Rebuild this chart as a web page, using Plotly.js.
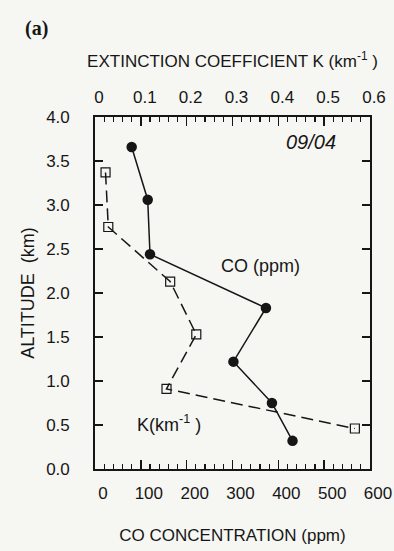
<!DOCTYPE html>
<html>
<head>
<meta charset="utf-8">
<script src="https://cdn.plot.ly/plotly-3.0.1.min.js"></script>
<style>html,body{margin:0;padding:0;background:#f6f6f3;}#chart{width:394px;height:551px;}</style>
</head>
<body>
<div id="chart"></div>
<script>
// CO concentration profile (ppm) vs altitude (km)
const coAltitude = [3.66, 3.06, 2.44, 1.83, 1.22, 0.75, 0.32];
const coValues   = [80, 115, 120, 373, 302, 386, 431];
// Extinction coefficient K (km^-1) vs altitude (km)
const kAltitude  = [3.37, 2.75, 2.13, 1.53, 0.91, 0.46];
const kValues    = [0.023, 0.029, 0.164, 0.221, 0.156, 0.567];
// Axis ranges and tick steps
const coRange = [0, 600];
const kRange  = [0, 0.6];
const altRange = [0, 4];
const coStep = 100, coMinorStep = 20;
const kStep = 0.1, kMinorStep = 0.02;
const altStep = 0.5;

const FONT = 'Liberation Sans, Arial, sans-serif';
const INK = '#161616';

const traces = [
  {
    x: coValues, y: coAltitude, xaxis: 'x', yaxis: 'y',
    mode: 'lines+markers', type: 'scatter',
    line: {color: INK, width: 1.5},
    marker: {symbol: 'circle', size: 10.5, color: INK},
    showlegend: false, hoverinfo: 'skip'
  },
  {
    x: kValues, y: kAltitude, xaxis: 'x2', yaxis: 'y',
    mode: 'lines+markers', type: 'scatter',
    line: {color: INK, width: 1.5, dash: '12px,6px'},
    marker: {symbol: 'square-open', size: 9, color: INK, line: {width: 1.2, color: INK}},
    showlegend: false, hoverinfo: 'skip'
  }
];

const layout = {
  width: 394, height: 551,
  margin: {l: 95, r: 24, t: 117, b: 82},
  paper_bgcolor: '#f6f6f3', plot_bgcolor: 'rgba(0,0,0,0)',
  font: {family: FONT, size: 17, color: INK},
  showlegend: false,
  xaxis: {
    range: coRange, dtick: coStep,
    ticks: 'inside', ticklen: 9, tickwidth: 1.4, tickcolor: INK,
    minor: {dtick: coMinorStep, ticks: 'inside', ticklen: 5, tickwidth: 1.2, tickcolor: INK},
    showline: true, linecolor: INK, linewidth: 1.8,
    showgrid: false, zeroline: false,
    tickfont: {family: FONT, size: 17, color: INK},
    ticklabelstandoff: 8, ticklabelshift: 8,
    title: {text: 'CO CONCENTRATION (ppm)', font: {family: FONT, size: 17, color: INK}, standoff: 27}
  },
  xaxis2: {
    range: kRange, overlaying: 'x', side: 'top', anchor: 'y', dtick: kStep,
    ticks: 'inside', ticklen: 9, tickwidth: 1.4, tickcolor: INK,
    minor: {dtick: kMinorStep, ticks: 'inside', ticklen: 5, tickwidth: 1.2, tickcolor: INK},
    showline: true, linecolor: INK, linewidth: 1.8,
    showgrid: false, zeroline: false,
    tickfont: {family: FONT, size: 17, color: INK},
    ticklabelstandoff: 5, ticklabelshift: 4,
    title: {text: 'EXTINCTION COEFFICIENT K (km<sup>-1</sup> )', font: {family: FONT, size: 17, color: INK}, standoff: 16}
  },
  yaxis: {
    range: altRange, dtick: altStep, tickformat: '.1f',
    ticks: 'inside', ticklen: 8, tickwidth: 1.4, tickcolor: INK,
    showline: true, mirror: 'ticks', linecolor: INK, linewidth: 1.8,
    showgrid: false, zeroline: false,
    tickfont: {family: FONT, size: 17, color: INK},
    ticklabelstandoff: 20,
    title: {text: 'ALTITUDE  (km)', font: {family: FONT, size: 18, color: INK}, standoff: 7}
  },
  annotations: [
    {text: '<b>(a)</b>', xref: 'paper', yref: 'paper', x: -0.262, y: 1.29, showarrow: false,
     font: {family: 'Liberation Serif, Times New Roman, serif', size: 20, color: INK}},
    {text: '<i>09/04</i>', xref: 'x', yref: 'y', x: 471, y: 3.72, showarrow: false,
     font: {family: FONT, size: 20, color: INK}},
    {text: 'CO (ppm)', xref: 'x', yref: 'y', x: 360, y: 2.31, showarrow: false,
     font: {family: FONT, size: 18, color: INK}},
    {text: 'K(km<sup>-1</sup> )', xref: 'x', yref: 'y', x: 161, y: 0.52, showarrow: false,
     font: {family: FONT, size: 18, color: INK}}
  ]
};

Plotly.newPlot('chart', traces, layout, {displayModeBar: false, staticPlot: true});
</script>
</body>
</html>
